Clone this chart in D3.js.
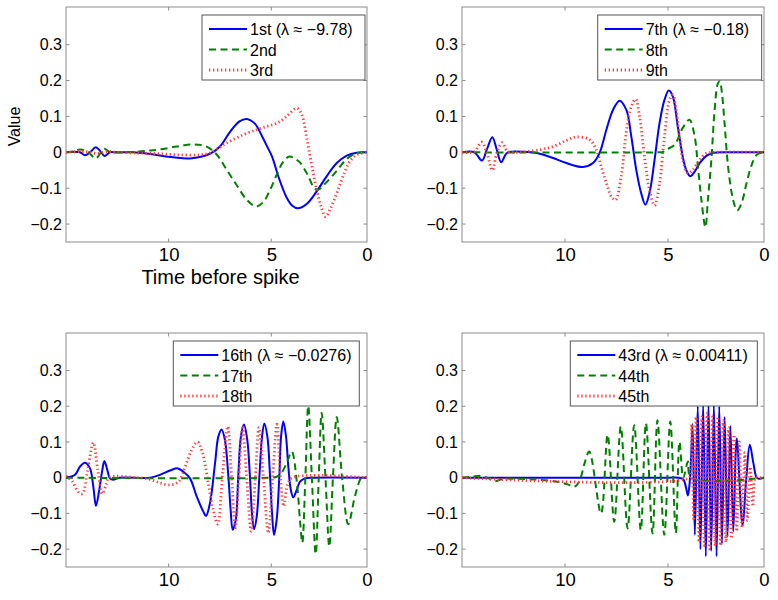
<!DOCTYPE html>
<html><head><meta charset="utf-8">
<script src="https://cdn.jsdelivr.net/npm/d3@7"></script>
<style>
body{margin:0;background:#fff}
svg{display:block}
text{font-family:"Liberation Sans",Arial,Helvetica,sans-serif;fill:#000}
</style>
</head><body>
<svg id="chart" width="778" height="600"></svg>
<script>
// ---------------- data ----------------
const yTickValues = [-0.2, -0.1, 0, 0.1, 0.2, 0.3];
const xTickValues = [10, 5, 0];
const xLabel = "Time before spike";
const yLabel = "Value";

const legend1 = ["1st (λ ≈ −9.78)", "2nd", "3rd"];
const legend2 = ["7th (λ ≈ −0.18)", "8th", "9th"];
const legend3 = ["16th (λ ≈ −0.0276)", "17th", "18th"];
const legend4 = ["43rd (λ ≈ 0.00411)", "44th", "45th"];

// panel 1 : [time before spike, value]
const p1_first = [[15,0],[14.32,0],[14.07,-0.008],[13.83,0],[13.55,0.014],[13.34,0.004],[13.13,-0.010],[12.86,0],[12.6,0],[11.7,0],[10.9,-0.005],[9.77,-0.014],[8.96,-0.017],[7.99,-0.004],[7.5,0.016],[7.01,0.057],[6.55,0.086],[6.2,0.093],[5.8,0.080],[5.45,0.045],[5.2,0.016],[4.96,-0.012],[4.6,-0.072],[4.2,-0.126],[3.9,-0.149],[3.62,-0.156],[3.15,-0.144],[2.63,-0.109],[2.11,-0.067],[1.58,-0.030],[1.06,-0.009],[0.54,-0.001],[0,0]];
const p1_second = [[15,0],[14.6,0.003],[14.32,0.008],[13.95,0.002],[13.55,-0.017],[13.3,0],[13.13,0.010],[12.9,0.002],[12.7,0],[11.7,0.001],[10.91,0.005],[10.42,0.008],[9.61,0.016],[8.80,0.022],[8.15,0.016],[7.66,-0.006],[7.17,-0.049],[6.69,-0.091],[6.20,-0.132],[5.75,-0.151],[5.39,-0.139],[5.06,-0.105],[4.72,-0.063],[4.37,-0.026],[4.05,-0.012],[3.55,-0.026],[3.10,-0.063],[2.75,-0.100],[2.55,-0.104],[2.2,-0.088],[1.65,-0.056],[1.10,-0.021],[0.54,-0.002],[0,0]];
const p1_third = [[15,0],[14.0,0.002],[13.5,-0.003],[13,0.002],[12.5,0],[11.5,-0.002],[10.42,-0.004],[9.45,-0.007],[8.48,-0.007],[7.99,-0.002],[7.5,0.014],[7.17,0.026],[6.36,0.049],[5.71,0.063],[5.22,0.072],[4.72,0.081],[4.20,0.100],[3.67,0.123],[3.41,0.105],[3.15,0.040],[2.89,-0.035],[2.63,-0.105],[2.37,-0.156],[2.16,-0.180],[1.94,-0.160],[1.68,-0.128],[1.42,-0.091],[1.16,-0.054],[0.90,-0.026],[0.54,-0.007],[0,0]];

// panel 2
const p2_seventh = [[15,0],[14.4,0],[14.03,-0.023],[13.78,0.01],[13.53,0.042],[13.3,0.005],[13.10,-0.028],[12.9,-0.008],[12.77,0],[11.64,0],[11.22,-0.004],[10.58,-0.016],[9.93,-0.030],[9.13,-0.041],[8.64,-0.030],[8.32,-0.002],[7.99,0.063],[7.67,0.118],[7.35,0.144],[7.02,0.118],[6.78,0.044],[6.54,-0.049],[6.30,-0.114],[6.10,-0.146],[5.90,-0.114],[5.65,-0.021],[5.41,0.081],[5.17,0.146],[4.96,0.172],[4.75,0.156],[4.49,0.072],[4.23,-0.012],[4.05,-0.049],[3.84,-0.067],[3.61,-0.054],[3.35,-0.030],[3.00,-0.010],[2.65,-0.002],[2.0,0],[0,0]];
const p2_eighth = [[15,0],[5.5,0],[5.25,0.001],[5.09,0.007],[4.66,0.021],[4.23,0.068],[3.88,0.091],[3.61,0.044],[3.44,-0.040],[3.26,-0.132],[3.05,-0.209],[2.92,-0.132],[2.74,-0.021],[2.57,0.118],[2.40,0.192],[2.30,0.198],[2.20,0.170],[2.04,0.072],[1.87,-0.040],[1.61,-0.132],[1.40,-0.162],[1.17,-0.142],[0.91,-0.086],[0.64,-0.035],[0.38,-0.007],[0,0]];
const p2_ninth = [[15,0],[14.4,0.002],[14.05,0.028],[13.8,0.0],[13.53,-0.050],[13.3,0],[13.05,0.027],[12.8,0.003],[12.4,0],[11.22,0.007],[10.58,0.016],[9.93,0.033],[9.45,0.043],[8.80,0.035],[8.48,0.007],[8.24,-0.040],[7.99,-0.086],[7.75,-0.123],[7.55,-0.133],[7.27,-0.067],[7.03,0.054],[6.78,0.128],[6.57,0.148],[6.38,0.100],[6.14,-0.012],[5.90,-0.105],[5.65,-0.148],[5.41,-0.086],[5.17,0.044],[4.92,0.146],[4.75,0.160],[4.57,0.118],[4.40,0.044],[4.23,-0.021],[3.97,-0.058],[3.71,-0.049],[3.35,-0.021],[3.0,-0.003],[2.6,0],[0,0]];

// panel 3
const p3_sixteenth = [[15,0],[14.56,0.008],[14.32,0.031],[14.07,0.042],[13.83,0.026],[13.67,-0.025],[13.54,-0.079],[13.38,-0.034],[13.23,0.022],[13.13,0.047],[12.99,0.022],[12.86,-0.002],[12.70,-0.006],[12.4,0],[10.91,0],[10.42,0.008],[9.93,0.020],[9.55,0.026],[9.29,0.017],[8.96,-0.002],[8.63,-0.053],[8.31,-0.095],[8.18,-0.107],[7.99,-0.072],[7.74,0.040],[7.58,0.115],[7.42,0.135],[7.26,0.106],[7.09,0.003],[6.98,-0.090],[6.88,-0.146],[6.73,-0.118],[6.61,0.003],[6.48,0.115],[6.33,0.149],[6.17,0.106],[6.04,0.003],[5.94,-0.100],[5.84,-0.144],[5.71,-0.109],[5.58,0.003],[5.45,0.115],[5.34,0.152],[5.19,0.115],[5.06,0.003],[4.96,-0.100],[4.86,-0.160],[4.72,-0.118],[4.58,0.003],[4.49,0.115],[4.37,0.157],[4.23,0.115],[4.11,0.031],[3.98,-0.034],[3.85,-0.055],[3.67,-0.034],[3.50,-0.011],[3.24,-0.002],[2.8,0],[0,0]];
const p3_seventeenth = [[15,0],[5.0,0],[4.75,0.002],[4.49,0.012],[4.20,0.040],[3.93,0.073],[3.67,-0.010],[3.50,-0.120],[3.38,-0.182],[3.22,0.0],[3.07,0.201],[2.88,0.0],[2.68,-0.214],[2.52,0],[2.37,0.182],[2.17,0],[1.97,-0.193],[1.78,0],[1.58,0.170],[1.30,0.0],[0.98,-0.130],[0.62,-0.05],[0.28,0],[0,0]];
const p3_eighteenth = [[15,0.005],[14.7,-0.010],[14.4,-0.040],[14.2,-0.045],[13.95,0.02],[13.67,0.098],[13.45,0.02],[13.23,-0.045],[13.05,-0.02],[12.9,0],[11.5,0],[10.9,-0.005],[10.4,-0.015],[9.9,-0.020],[9.5,-0.01],[9.2,0.03],[8.9,0.075],[8.6,0.100],[8.35,0.07],[8.07,-0.016],[7.83,-0.090],[7.61,-0.130],[7.37,0.012],[7.12,0.143],[6.93,0.0],[6.75,-0.140],[6.58,0],[6.40,0.140],[6.2,0],[5.98,-0.150],[5.78,0],[5.60,0.140],[5.38,0],[5.15,-0.155],[4.93,0],[4.70,0.150],[4.52,0],[4.35,-0.08],[4.15,-0.02],[3.9,0],[0,0]];

// panel 4
const p4_fortythird = [[15,0],[5.0,0],[4.47,0],[4.2,-0.005],[4.05,-0.03],[3.96,-0.050],[3.88,-0.02],[3.80,0.05],[3.72,0.150],[3.60,-0.160],[3.45,0.200],[3.31,-0.200],[3.17,0.205],[3.03,-0.220],[2.89,0.205],[2.75,-0.205],[2.61,0.205],[2.47,-0.220],[2.33,0.200],[2.19,-0.185],[2.05,0.170],[1.90,-0.165],[1.75,0.145],[1.60,-0.150],[1.42,0.110],[1.12,-0.132],[0.92,0.0],[0.74,0.092],[0.55,0.040],[0.38,0.0],[0.25,-0.003],[0,0]];
const p4_fortyfourth = [[15,0],[14.5,0.003],[14.1,0.005],[13.7,-0.002],[13.4,-0.010],[13.0,-0.003],[12.5,-0.003],[11.5,-0.005],[10.5,-0.010],[9.9,-0.018],[9.54,-0.025],[9.30,-0.010],[9.05,0.040],[8.82,0.073],[8.25,-0.100],[7.93,0.120],[7.61,-0.123],[7.29,0.143],[6.96,-0.142],[6.64,0.147],[6.32,-0.146],[6.07,0.152],[5.75,-0.156],[5.51,0.161],[5.18,-0.160],[4.88,0.157],[4.59,-0.155],[4.40,0.100],[4.20,0.0],[3.96,0.045],[3.80,0.0],[0,0]];
const p4_fortyfifth = [[15,0],[3.90,0],[3.80,0.02],[3.76,0.150],[3.66,-0.12],[3.53,0.17],[3.38,-0.18],[3.24,0.17],[3.10,-0.19],[2.96,0.18],[2.82,-0.20],[2.68,0.17],[2.54,-0.19],[2.40,0.17],[2.26,-0.19],[2.12,0.16],[1.98,-0.18],[1.84,0.14],[1.70,-0.17],[1.56,0.12],[1.42,-0.15],[1.28,0.10],[1.14,-0.14],[1.00,0.07],[0.86,-0.12],[0.72,0.03],[0.58,-0.08],[0.45,0.0],[0.35,0.0],[0,0]];

// ---------------- layout / style ----------------
const colors = ["#0000ff", "#008000", "#ff3b3b"];
const panels = [
  {left:66,  right:367, top:7,   bottom:242, series:[p1_first,p1_second,p1_third], legend:legend1, lx0:202, lx1:365, ly0:15, xlab:true, ylab:true},
  {left:462, right:764, top:7,   bottom:242, series:[p2_seventh,p2_eighth,p2_ninth], legend:legend2, lx0:597.7, lx1:761.7, ly0:15},
  {left:66,  right:367, top:333, bottom:567, series:[p3_sixteenth,p3_seventeenth,p3_eighteenth], legend:legend3, lx0:173.3, lx1:359.3, ly0:341},
  {left:462, right:764, top:333, bottom:567, series:[p4_fortythird,p4_fortyfourth,p4_fortyfifth], legend:legend4, lx0:570.3, lx1:757.3, ly0:341}
];

const svg = d3.select("#chart");
const fmtY = d => d === 0 ? "0" : d3.format(".1f")(d);
const boxColor = "#8c8c8c";

function applyStyle(sel, i) {
  sel.attr("fill","none").attr("stroke", colors[i]);
  if (i === 0) sel.attr("stroke-width", 2);
  if (i === 1) sel.attr("stroke-width", 2).attr("stroke-dasharray", "7,4.5");
  if (i === 2) sel.attr("stroke-width", 2.8).attr("stroke-dasharray", "1.3,2.7");
}

panels.forEach((p, pi) => {
  const w = p.right - p.left;
  const x = d3.scaleLinear().domain([15, 5, 0]).range([p.left, p.left + 0.682 * w, p.right]);
  const y = d3.scaleLinear().domain([-0.25, 0.405]).range([p.bottom, p.top]);
  const g = svg.append("g");

  const clipId = "clip" + pi;
  svg.append("clipPath").attr("id", clipId).append("rect")
    .attr("x", p.left).attr("y", p.top).attr("width", w).attr("height", p.bottom - p.top);

  // axes box
  g.append("rect").attr("x", p.left).attr("y", p.top).attr("width", w).attr("height", p.bottom - p.top)
    .attr("fill", "#fff").attr("stroke", boxColor).attr("stroke-width", 1);

  // bottom axis
  const xb = d3.axisBottom(x).tickValues(xTickValues).tickSize(0).tickPadding(6).tickFormat(d3.format("d"));
  const gx = g.append("g").attr("transform", `translate(0,${p.bottom})`).call(xb);
  gx.select(".domain").remove();
  gx.selectAll("text").attr("font-size", 18.5).attr("fill", "#000");
  // inward tick marks (bottom & top)
  const tx = xTickValues.filter(v => v !== 0 && v !== 15);
  g.selectAll(null).data(tx).enter().append("line")
    .attr("x1", d => x(d)).attr("x2", d => x(d)).attr("y1", p.bottom).attr("y2", p.bottom - 3.5).attr("stroke", boxColor);
  g.selectAll(null).data(tx).enter().append("line")
    .attr("x1", d => x(d)).attr("x2", d => x(d)).attr("y1", p.top).attr("y2", p.top + 3.5).attr("stroke", boxColor);

  // left axis
  const yl = d3.axisLeft(y).tickValues(yTickValues).tickSize(0).tickPadding(4).tickFormat(fmtY);
  const gy = g.append("g").attr("transform", `translate(${p.left},0)`).call(yl);
  gy.select(".domain").remove();
  gy.selectAll("text").attr("font-size", 16).attr("fill", "#000");
  g.selectAll(null).data(yTickValues).enter().append("line")
    .attr("x1", p.left).attr("x2", p.left + 3.5).attr("y1", d => y(d)).attr("y2", d => y(d)).attr("stroke", boxColor);
  g.selectAll(null).data(yTickValues).enter().append("line")
    .attr("x1", p.right).attr("x2", p.right - 3.5).attr("y1", d => y(d)).attr("y2", d => y(d)).attr("stroke", boxColor);

  // curves
  const line = d3.line().x(d => x(d[0])).y(d => y(d[1])).curve(d3.curveCatmullRom.alpha(0.5));
  const cg = g.append("g").attr("clip-path", `url(#${clipId})`);
  p.series.forEach((s, i) => {
    cg.append("path").datum(s).attr("d", line).call(applyStyle, i);
  });

  // legend
  const lg = g.append("g");
  lg.append("rect").attr("x", p.lx0).attr("y", p.ly0).attr("width", p.lx1 - p.lx0).attr("height", 65)
    .attr("fill", "#fff").attr("stroke", "#555").attr("stroke-width", 1);
  p.legend.forEach((lab, i) => {
    const cy = p.ly0 + 14 + i * 20.5;
    lg.append("line").attr("x1", p.lx0 + 7).attr("x2", p.lx0 + 45).attr("y1", cy).attr("y2", cy).call(applyStyle, i);
    lg.append("text").attr("x", p.lx0 + 48).attr("y", cy + 6).attr("font-size", 16).text(lab);
  });

  if (p.xlab) {
    g.append("text").attr("x", (p.left + p.right) / 2 + 4).attr("y", p.bottom + 42)
      .attr("text-anchor", "middle").attr("font-size", 20).text(xLabel);
  }
  if (p.ylab) {
    g.append("text").attr("transform", `translate(${20},${(p.top + p.bottom) / 2 + 2}) rotate(-90)`)
      .attr("text-anchor", "middle").attr("font-size", 16).text(yLabel);
  }
});
</script>
</body></html>
